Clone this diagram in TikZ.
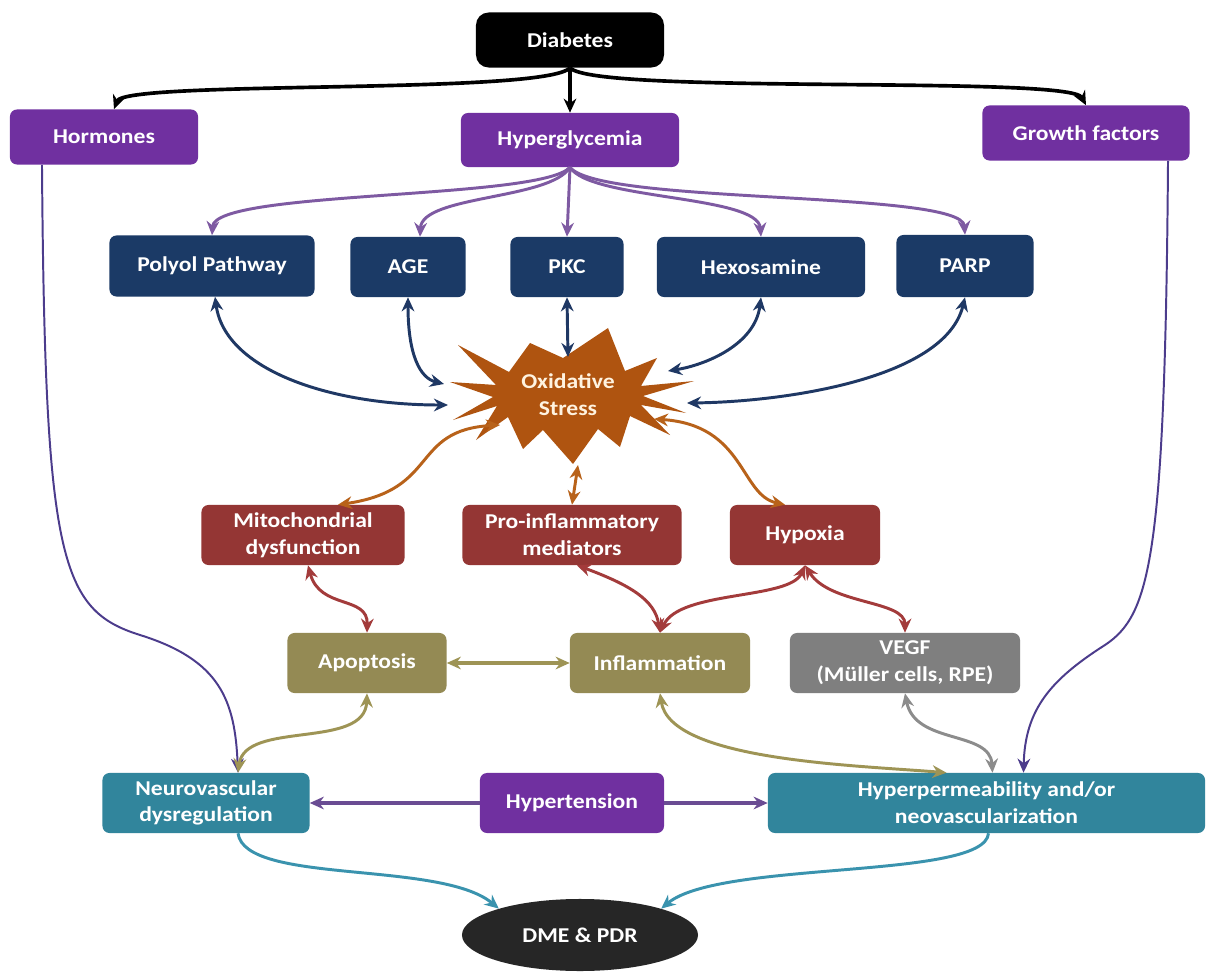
\documentclass[tikz,border=0pt]{standalone}
\usepackage{fontspec}
\setmainfont{Carlito}[FakeStretch=1.12]
\usetikzlibrary{arrows.meta,shapes.geometric}
\definecolor{cPurple}{HTML}{7030A0}
\definecolor{cNavy}{HTML}{1B3A66}
\definecolor{cStar}{HTML}{AF5410}
\definecolor{cRed}{HTML}{943634}
\definecolor{cOlive}{HTML}{948A54}
\definecolor{cGray}{HTML}{7F7F7F}
\definecolor{cTeal}{HTML}{31859C}
\definecolor{cDme}{HTML}{262626}
\definecolor{lPurple}{HTML}{7E5AA2}
\definecolor{lHorm}{HTML}{4C3C8C}
\definecolor{lNavy}{HTML}{1F3864}
\definecolor{lOrange}{HTML}{B8621A}
\definecolor{lRed}{HTML}{A33B3B}
\definecolor{lOlive}{HTML}{9E9455}
\definecolor{lGray}{HTML}{8C8C8C}
\definecolor{lTeal}{HTML}{3A93AE}
\definecolor{lHyp}{HTML}{6A4C93}
\definecolor{cCream}{HTML}{FFF3E0}
\begin{document}
\begin{tikzpicture}[x=0.025cm,y=-0.025cm,
  box/.style={rounded corners=5pt, text=white, align=center,
    font=\fontsize{15}{19}\selectfont\bfseries, inner sep=2pt},
  conn/.style={line width=2.1pt, arrows={-Stealth[length=10pt,width=9pt]}},
  bi/.style={line width=2.1pt, arrows={Stealth[length=10pt,width=9pt]-Stealth[length=10pt,width=9pt]}}
]
\useasboundingbox[fill=white] (0,0) rectangle (1206,972);

% nodes
\node[box, fill=black, rounded corners=9pt, minimum width=4.7cm, minimum height=1.375cm] (diab) at (570,40) {Diabetes};
\node[box, fill=cPurple, minimum width=4.7cm, minimum height=1.375cm] (horm) at (104,137) {Hormones};
\node[box, fill=cPurple, minimum width=5.45cm, minimum height=1.35cm] (hyper) at (570,140) {Hyperglycemia};
\node[box, fill=cPurple, minimum width=5.175cm, minimum height=1.375cm] (growth) at (1086,133) {Growth factors};

\node[box, fill=cNavy, minimum width=5.125cm, minimum height=1.525cm] (polyol) at (212,266) {Polyol Pathway};
\node[box, fill=cNavy, minimum width=2.875cm, minimum height=1.5cm] (age) at (408,267) {AGE};
\node[box, fill=cNavy, minimum width=2.825cm, minimum height=1.5cm] (pkc) at (567,267) {PKC};
\node[box, fill=cNavy, minimum width=5.2cm, minimum height=1.5cm] (hexo) at (761,267) {Hexosamine};
\node[box, fill=cNavy, minimum width=3.425cm, minimum height=1.55cm] (parp) at (965,266) {PARP};

% star
\fill[cStar] (608,328) -- (625,371) -- (657,358) -- (641,386) -- (694,381) -- (643,396)
  -- (686,413) -- (641,405) -- (670,435) -- (630,416) -- (620,447) -- (598,429)
  -- (573,464) -- (543,430) -- (523,449) -- (508,417) -- (476,440) -- (497,406)
  -- (453,420) -- (493,397) -- (450,382) -- (496,385) -- (458,345) -- (509,372)
  -- (530,343) -- (563,358) -- cycle;
\node[text=cCream, align=center, font=\fontsize{15}{19}\selectfont\bfseries] (ox) at (568,395) {Oxidative\\Stress};

\node[box, fill=cRed, minimum width=5.075cm, minimum height=1.5cm] (mito) at (303,535) {Mitochondrial\\dysfunction};
\node[box, fill=cRed, minimum width=5.475cm, minimum height=1.5cm] (proinf) at (572,535) {Pro-inflammatory\\mediators};
\node[box, fill=cRed, minimum width=3.75cm, minimum height=1.5cm] (hypox) at (805,535) {Hypoxia};

\node[box, fill=cOlive, minimum width=3.975cm, minimum height=1.5cm] (apop) at (367,663) {Apoptosis};
\node[box, fill=cOlive, minimum width=4.5cm, minimum height=1.5cm] (infl) at (660,663) {Inflammation};
\node[box, fill=cGray, minimum width=5.75cm, minimum height=1.5cm] (vegf) at (905,663) {VEGF\\(Müller cells, RPE)};

\node[box, fill=cTeal, minimum width=5.175cm, minimum height=1.5cm] (neuro) at (206,803) {Neurovascular\\dysregulation};
\node[box, fill=cPurple, minimum width=4.6cm, minimum height=1.5cm] (hypert) at (572,803) {Hypertension};
\node[box, fill=cTeal, minimum width=10.925cm, minimum height=1.5cm] (hperm) at (986.5,803) {Hyperpermeability and/or\\neovascularization};

\node[ellipse, fill=cDme, text=white, font=\fontsize{15}{19}\selectfont\bfseries, minimum width=5.9cm, minimum height=1.8cm, inner sep=0pt] (dme) at (580,935) {DME \& PDR};

% black
\draw[conn, black, line width=2.6pt] (diab.south) .. controls (545,95) and (125,80) .. ([xshift=0.25cm]horm.north);
\draw[conn, black, line width=2.6pt] (diab.south) -- (hyper.north);
\draw[conn, black, line width=2.6pt] (diab.south) .. controls (595,95) and (1070,75) .. (growth.north);

% purple from hyperglycemia
\draw[conn, lPurple] (hyper.south) .. controls (540,200) and (215,190) .. (polyol.north);
\draw[conn, lPurple] (hyper.south) .. controls (550,200) and (422,195) .. ([xshift=0.3cm]age.north);
\draw[conn, lPurple] (hyper.south) -- (pkc.north);
\draw[conn, lPurple] (hyper.south) .. controls (590,200) and (758,195) .. (hexo.north);
\draw[conn, lPurple] (hyper.south) .. controls (600,205) and (962,190) .. (parp.north);

% hormones / growth factors
\draw[conn, lHorm, line width=1.4pt] ([xshift=-1.55cm]horm.south) .. controls (45,560) and (60,610) .. (140,635)
  .. controls (220,660) and (235,700) .. ([xshift=0.8cm]neuro.north);
\draw[conn, lHorm, line width=1.4pt] ([xshift=2.05cm]growth.south) .. controls (1165,560) and (1150,615) .. (1105,645)
  .. controls (1050,680) and (1025,710) .. ([xshift=0.925cm]hperm.north);

% navy
\draw[bi, lNavy] ([xshift=0.075cm]polyol.south) .. controls (225,370) and (330,405) .. ([shift={(-120,10)}]ox.center);
\draw[bi, lNavy] (age.south) .. controls (408,355) and (420,378) .. ([shift={(-124,-11)}]ox.center);
\draw[bi, lNavy] (pkc.south) -- ([shift={(0,-38)}]ox.center);
\draw[bi, lNavy] (hexo.south) .. controls (755,345) and (705,365) .. ([shift={(100,-24)}]ox.center);
\draw[bi, lNavy] (parp.south) .. controls (945,380) and (780,402) .. ([shift={(119,8)}]ox.center);

% orange
\draw[bi, lOrange] ([shift={(-68,30)}]ox.center) .. controls (410,430) and (440,490) .. ([xshift=0.875cm]mito.north);
\draw[bi, lOrange] ([shift={(10,70)}]ox.center) -- (proinf.north);
\draw[bi, lOrange] ([shift={(86,24)}]ox.center) .. controls (745,425) and (740,495) .. ([xshift=-0.5cm]hypox.north);

% red
\draw[bi, lRed] ([xshift=0.125cm]mito.south) .. controls (320,610) and (368,595) .. (apop.north);
\draw[bi, lRed] ([xshift=0.125cm]proinf.south) .. controls (630,585) and (655,600) .. (infl.north);
\draw[bi, lRed] (hypox.south) .. controls (790,600) and (680,590) .. (infl.north);
\draw[bi, lRed] (hypox.south) .. controls (830,605) and (905,600) .. (vegf.north);

% olive
\draw[bi, lOlive, line width=2.8pt] (apop.east) -- (infl.west);
\draw[bi, lOlive] (apop.south) .. controls (365,750) and (245,720) .. ([xshift=0.8cm]neuro.north);
\draw[bi, lOlive] (infl.south) .. controls (670,760) and (850,765) .. ([xshift=-1cm]hperm.north);

% gray
\draw[bi, lGray] (vegf.south) .. controls (915,745) and (990,730) .. ([xshift=0.15cm]hperm.north);

% hypertension
\draw[conn, lHyp, line width=3.2pt] (hypert.west) -- (neuro.east);
\draw[conn, lHyp, line width=3.2pt] (hypert.east) -- (hperm.west);

% teal
\draw[conn, lTeal] ([xshift=0.8cm]neuro.south) .. controls (245,885) and (440,860) .. (dme.162);
\draw[conn, lTeal] ([xshift=0.05cm]hperm.south) .. controls (985,880) and (720,860) .. (dme.18);
\end{tikzpicture}
\end{document}
